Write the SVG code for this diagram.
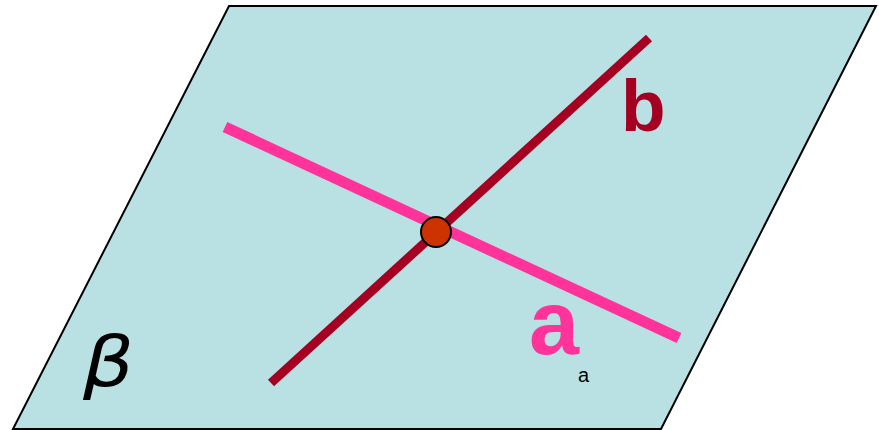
<svg xmlns="http://www.w3.org/2000/svg" width="879" height="430" viewBox="0 0 879 430">
<style>
.lbl{font-family:"Liberation Sans",Arial,sans-serif;font-weight:bold}
</style>
<rect width="879" height="430" fill="#ffffff"/>
<g id="plane">
<polygon points="229,6 876,6 661,429 13,429" fill="#b9e0e3" stroke="#000000" stroke-width="2"/>
<text transform="translate(83,386) scale(1.14,1)" x="0" y="0" font-family="'DejaVu Sans',sans-serif" font-style="italic" font-size="70" fill="#000000">β</text>
</g>
<g id="connectors">
<line id="line-a" x1="225" y1="127" x2="679" y2="338" stroke="#ff3399" stroke-width="11"/>
<line id="line-b" x1="271" y1="383" x2="649" y2="38" stroke="#a50021" stroke-width="9"/>
</g>
<g id="point">
<circle cx="436" cy="232" r="15" fill="#cc3300" stroke="#000000" stroke-width="2"/>
</g>
<g id="label-b">
<text class="lbl" x="621" y="131" font-size="73" fill="#a50021">b</text>
</g>
<g id="label-a">
<text class="lbl" x="529" y="354" font-size="90" fill="#ff3399">a</text>
<text x="578" y="382" font-family="'Liberation Sans',Arial,sans-serif" font-size="20" fill="#000000">a</text>
</g>
</svg>
